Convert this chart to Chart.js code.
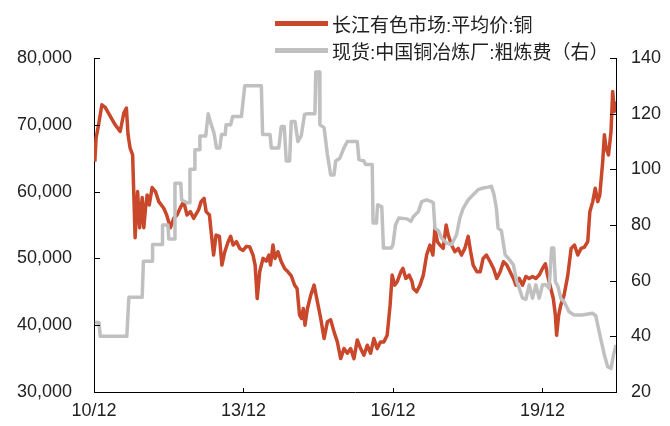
<!DOCTYPE html>
<html>
<head>
<meta charset="utf-8">
<script src="https://cdn.jsdelivr.net/npm/chart.js@4.4.0/dist/chart.umd.min.js"></script>
<style>
  html, body { margin: 0; padding: 0; background: #fff; }
  #wrap { position: relative; width: 670px; height: 426px; }
  #legend {
    position: absolute; left: 275px; top: 10px;
    font: 19px "Liberation Sans", "Noto Sans CJK SC", sans-serif; color: #222;
  }
  .item { display: flex; align-items: center; height: 27px; white-space: nowrap; }
  .swatch { display: inline-block; width: 53px; height: 5px; margin-right: 4px; }
</style>
</head>
<body>
<div id="wrap">
  <canvas id="chart" width="670" height="426"></canvas>
  <div id="legend">
    <div class="item"><span class="swatch" style="background:#c9472a"></span>长江有色市场:平均价:铜</div>
    <div class="item"><span class="swatch" style="background:#c0c0c0"></span>现货:中国铜冶炼厂:粗炼费（右）</div>
  </div>
</div>
<script>
// x values are months counted from Dec 2010
const tickMonths = [0, 36, 72, 108];
const tickLabels = ['10/12', '13/12', '16/12', '19/12'];

// copper price, yuan/t (left axis)
const cuMonths = [
  0.2, 0.5, 1.1, 1.9, 2.7, 3.9, 5.1, 6.3, 7.2, 7.8,
  8.2, 8.7, 9.3, 9.9, 10.5, 11.0, 11.6, 12.0, 12.4, 12.8,
  13.3, 14.0, 14.8, 15.6, 16.8, 17.5, 18.4, 19.2, 20.0, 20.8,
  21.6, 22.4, 23.2, 24.0, 25.2, 25.8, 26.5, 27.0, 27.8, 28.2,
  28.8, 29.4, 30.2, 30.8, 31.5, 32.3, 32.9, 33.5, 34.3, 35.1,
  35.9, 36.7, 37.5, 38.3, 38.8, 39.3, 39.9, 40.7, 41.5, 42.1,
  42.5, 43.1, 43.6, 44.3, 45.1, 45.9, 46.7, 47.5, 48.3, 48.9,
  49.5, 50.0, 50.4, 50.8, 51.4, 52.2, 53.0, 53.8, 54.6, 55.4,
  56.2, 57.0, 57.8, 58.6, 59.4, 60.2, 61.0, 61.8, 62.6, 63.4,
  64.2, 65.0, 65.8, 66.6, 67.4, 68.2, 69.0, 69.8, 70.6, 71.3,
  71.8, 72.4, 73.0, 73.9, 74.4, 75.1, 75.9, 76.6, 76.9, 77.7,
  78.5, 79.3, 80.1, 80.9, 81.6, 82.1, 82.7, 83.3, 84.1, 84.8,
  85.3, 86.1, 86.9, 87.7, 88.5, 89.3, 90.1, 90.7, 91.3, 92.2,
  93.0, 93.7, 94.5, 95.4, 96.2, 97.0, 97.8, 98.6, 99.4, 100.2,
  101.0, 101.6, 102.4, 103.2, 104.0, 104.8, 105.6, 106.4, 107.2, 108.0,
  108.7, 109.2, 110.0, 110.6, 111.1, 111.4, 111.9, 112.4, 113.2, 114.1,
  114.9, 115.7, 116.5, 117.3, 118.1, 118.9, 119.4, 120.1, 120.7, 121.3,
  121.8, 122.5, 122.9, 123.3, 123.9, 124.5, 124.9, 125.3, 125.7
];
const cuPrice = [
  64500, 68000, 70000, 73000, 72600, 71300, 70000, 69000, 71800, 72500,
  68500, 66500, 65500, 53100, 60000, 54600, 59100, 54600, 57500, 59500,
  58000, 60600, 60000, 58500, 57500, 56500, 54600, 56000, 56500, 57600,
  58500, 56500, 57000, 56000, 57300, 58500, 59000, 57000, 56500, 54000,
  50500, 53500, 53300, 49000, 51000, 52500, 53300, 52000, 52500, 51500,
  51200, 51800, 51700, 50500, 49000, 44000, 48000, 50000, 49600, 50500,
  49000, 52000, 50000, 51000, 49500, 48500, 48000, 47400, 46000, 45500,
  41500, 41000, 42500, 40000, 42500, 44500, 46000, 43500, 41000, 38000,
  40500, 40800, 39000, 37500, 35000, 36500, 35800, 36500, 35000, 37800,
  36500, 35500, 37000, 35800, 38000, 36500, 37500, 37500, 38500, 43000,
  47500, 46000, 46500, 48000, 48500, 47000, 47500, 46500, 45500, 45000,
  46000, 47500, 50500, 52000, 50500, 54500, 52500, 52000, 51500, 55000,
  53500, 52000, 51000, 51500, 50500, 51500, 53300, 51000, 49000, 48000,
  48000, 50000, 50500, 49500, 48500, 47000, 48000, 49500, 49000, 48000,
  47000, 46000, 47000, 46000, 47300, 47000, 47300, 47000, 47500, 48500,
  49200, 47500, 45500, 44000, 41500, 38500, 41500, 43000, 44500, 47500,
  51500, 52000, 50500, 51500, 51700, 52500, 57000, 58500, 60500, 58500,
  59500, 64500, 68500, 66500, 65500, 69000, 75000, 72000, 73500
];

// smelter treatment charge, USD/t (right axis)
const tcMonths = [
  0.2, 1.2, 1.5, 7.9, 8.4, 11.6, 11.9, 14.0, 14.1, 16.4,
  16.5, 17.8, 18.0, 19.3, 19.5, 20.9, 21.1, 22.4, 23.0, 23.1,
  24.2, 24.3, 25.3, 25.5, 26.9, 27.5, 28.1, 28.9, 29.5, 30.3,
  30.7, 31.6, 31.8, 32.9, 33.4, 35.5, 36.3, 40.3, 40.6, 42.4,
  42.7, 44.5, 45.1, 45.8, 46.3, 47.1, 47.5, 48.4, 49.1, 49.9,
  50.7, 51.4, 53.2, 53.4, 54.2, 54.4, 55.4, 56.2, 57.0, 57.8,
  58.2, 59.2, 60.2, 61.0, 63.4, 63.8, 65.0, 65.4, 67.0, 67.2,
  68.0, 68.3, 69.3, 69.7, 71.6, 72.0, 72.6, 73.4, 75.4, 76.3,
  76.9, 78.1, 78.9, 80.1, 81.1, 81.7, 82.1, 82.9, 83.7, 84.9,
  86.1, 87.3, 88.1, 88.9, 90.1, 91.3, 92.5, 93.7, 94.9, 95.7,
  96.3, 96.9, 97.3, 98.1, 99.0, 99.8, 101.0, 101.8, 102.4, 103.2,
  104.0, 104.8, 105.6, 106.4, 107.2, 108.0, 108.8, 109.6, 110.2, 110.7,
  111.1, 111.7, 112.4, 113.2, 114.4, 115.6, 117.6, 120.0, 120.8, 122.0,
  122.9, 123.7, 124.5, 125.1, 125.7
];
const tcFee = [
  45, 45, 40, 40, 54, 54, 67, 67, 73, 73,
  80, 80, 75, 75, 95, 95, 89, 88, 88, 100,
  100, 107, 107, 112, 112, 120, 116.7, 113, 107.7, 107.7,
  112.5, 112.5, 116, 116, 119, 119, 130, 130, 112.5, 112.5,
  107.7, 107.7, 115.4, 115.4, 103, 103, 117.2, 117.2, 110, 112,
  119.7, 120, 120, 135, 135, 116, 115, 105.3, 98, 98,
  103, 104, 107.7, 110, 110, 103.5, 103, 101.7, 101.7, 80.7,
  80.7, 87.3, 86.5, 71.7, 71.7, 73, 80, 82.5, 82.2, 81.3,
  83, 84.8, 88.4, 89, 88.5, 88, 78.9, 78, 75.3, 73.5,
  73, 76.5, 82.5, 86, 89, 90.9, 92.7, 93.3, 93.6, 93.9,
  91, 86, 78.9, 78, 69.3, 68, 65.7, 59.6, 57.3, 53.7,
  53.3, 58.5, 53.7, 58.5, 53.7, 58.5, 58.5, 57.3, 71.7, 71.7,
  59.6, 58, 53.7, 52.4, 48.8, 47.7, 47.7, 48.3, 47.5, 39.3,
  33.3, 29.1, 28.5, 33.3, 36.9
];

const axisFont = { family: '"Liberation Sans", Arial, sans-serif', size: 18 };

// short tick marks drawn inside the plot, like the original
const innerTicks = {
  id: 'innerTicks',
  afterDraw(chart) {
    const { ctx, chartArea: a, scales } = chart;
    ctx.save();
    ctx.strokeStyle = '#000';
    ctx.lineWidth = 1;
    ctx.beginPath();
    scales.y.ticks.forEach(t => {
      const p = Math.round(scales.y.getPixelForValue(t.value)) + 0.5;
      ctx.moveTo(a.left, p); ctx.lineTo(a.left + 6, p);
    });
    scales.y1.ticks.forEach(t => {
      const p = Math.round(scales.y1.getPixelForValue(t.value)) + 0.5;
      ctx.moveTo(a.right, p); ctx.lineTo(a.right - 6, p);
    });
    scales.x.ticks.forEach(t => {
      const p = Math.round(scales.x.getPixelForValue(t.value)) + 0.5;
      ctx.moveTo(p, a.bottom); ctx.lineTo(p, a.bottom - 4);
    });
    ctx.stroke();
    ctx.restore();
  }
};

new Chart(document.getElementById('chart'), {
  type: 'line',
  data: {
    datasets: [
      {
        label: '现货:中国铜冶炼厂:粗炼费（右）',
        data: tcMonths.map((m, i) => ({ x: m, y: tcFee[i] })),
        yAxisID: 'y1',
        borderColor: '#c0c0c0',
        borderWidth: 3.5,
        borderJoinStyle: 'round',
        pointRadius: 0,
        tension: 0
      },
      {
        label: '长江有色市场:平均价:铜',
        data: cuMonths.map((m, i) => ({ x: m, y: cuPrice[i] })),
        yAxisID: 'y',
        borderColor: '#c9472a',
        borderWidth: 3.5,
        borderJoinStyle: 'round',
        pointRadius: 0,
        tension: 0
      }
    ]
  },
  options: {
    responsive: false,
    animation: false,
    devicePixelRatio: 1,
    layout: { padding: { top: 58, left: 0, right: 0, bottom: 0 } },
    plugins: { legend: { display: false }, tooltip: { enabled: false } },
    scales: {
      x: {
        type: 'linear',
        min: 0,
        max: 125.7,
        afterBuildTicks: s => { s.ticks = tickMonths.map(v => ({ value: v })); },
        afterFit: s => { s.height = 34; },
        grid: { display: false, drawTicks: false },
        border: { display: true, color: '#000', width: 1 },
        ticks: {
          font: axisFont, color: '#222', padding: 8, maxRotation: 0,
          callback: v => tickLabels[tickMonths.indexOf(v)]
        }
      },
      y: {
        position: 'left',
        min: 30000,
        max: 80000,
        afterFit: s => { s.width = 94; },
        grid: { display: false, drawTicks: false },
        border: { display: true, color: '#000', width: 1 },
        ticks: {
          stepSize: 10000, font: axisFont, color: '#222', padding: 22,
          callback: v => v.toLocaleString('en-US')
        }
      },
      y1: {
        position: 'right',
        min: 20,
        max: 140,
        afterFit: s => { s.width = 54; },
        grid: { display: false, drawTicks: false },
        border: { display: true, color: '#000', width: 1 },
        ticks: { stepSize: 20, font: axisFont, color: '#222', padding: 15 }
      }
    }
  },
  plugins: [innerTicks]
});
</script>
</body>
</html>
